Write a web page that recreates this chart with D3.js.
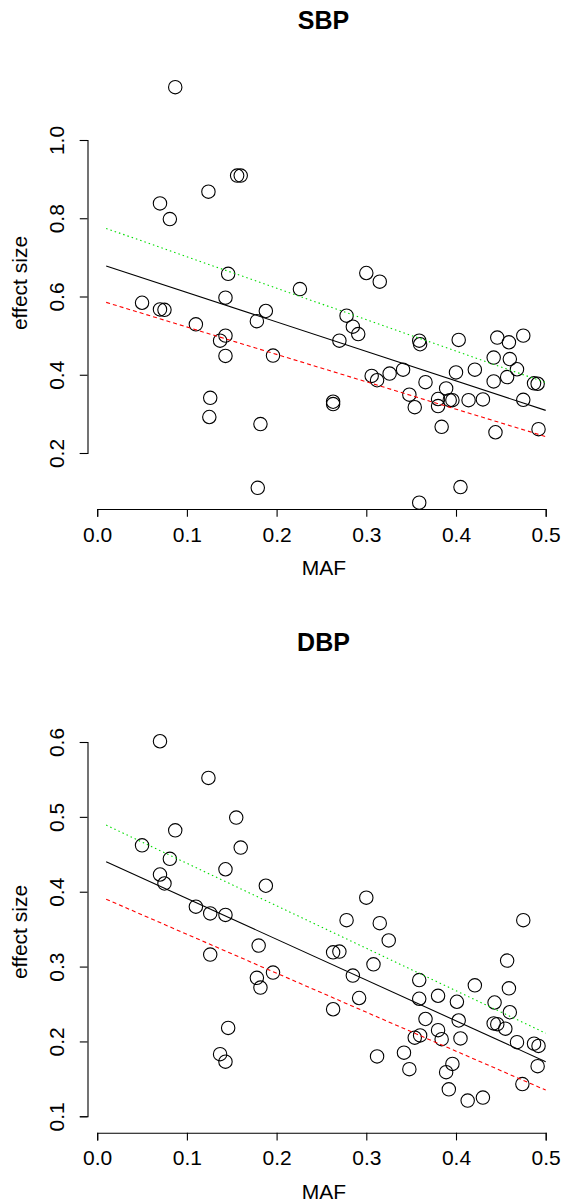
<!DOCTYPE html>
<html>
<head>
<meta charset="utf-8">
<script src="https://cdnjs.cloudflare.com/ajax/libs/d3/7.8.5/d3.min.js"></script>
<style>
    body { margin: 0; background: white; }
    svg text { font-family: "Liberation Sans", Arial, Helvetica, sans-serif; fill: black; }
</style>
</head>
<body>
<div id="grafico"></div>
<script>
const WIDTH = 565;
const HEIGHT = 1204;

// MAF and effect size per SNP
const sbpMaf = [0.087,0.156,0.160,0.124,0.070,0.081,0.146,0.300,0.315,0.226,0.143,0.050,0.070,0.075,0.188,0.110,0.178,0.278,0.285,0.291,0.270,0.137,0.143,0.143,0.196,0.359,0.360,0.403,0.446,0.459,0.475,0.442,0.460,0.468,0.421,0.341,0.400,0.306,0.312,0.326,0.366,0.457,0.442,0.487,0.491,0.389,0.348,0.380,0.380,0.393,0.396,0.414,0.430,0.475,0.354,0.263,0.263,0.126,0.125,0.182,0.384,0.444,0.492,0.179,0.405,0.359];
const sbpEffect = [1.135,0.909,0.909,0.868,0.838,0.798,0.658,0.660,0.638,0.619,0.597,0.584,0.567,0.566,0.563,0.529,0.537,0.551,0.523,0.504,0.487,0.487,0.500,0.448,0.449,0.487,0.478,0.489,0.495,0.483,0.500,0.444,0.440,0.414,0.413,0.413,0.406,0.397,0.386,0.403,0.381,0.394,0.383,0.378,0.377,0.365,0.349,0.338,0.320,0.335,0.335,0.335,0.337,0.336,0.317,0.331,0.325,0.341,0.292,0.274,0.267,0.253,0.261,0.111,0.113,0.073];

const dbpMaf = [0.070,0.124,0.155,0.087,0.050,0.160,0.081,0.143,0.070,0.188,0.075,0.300,0.110,0.126,0.143,0.278,0.315,0.475,0.325,0.180,0.126,0.263,0.270,0.457,0.308,0.196,0.285,0.178,0.359,0.182,0.421,0.459,0.380,0.292,0.359,0.401,0.443,0.263,0.460,0.366,0.403,0.442,0.446,0.455,0.146,0.380,0.384,0.405,0.354,0.360,0.468,0.487,0.492,0.312,0.342,0.137,0.143,0.396,0.348,0.389,0.491,0.474,0.392,0.430,0.413];
const dbpEffect = [0.601,0.552,0.499,0.482,0.462,0.459,0.444,0.430,0.423,0.408,0.411,0.392,0.380,0.371,0.369,0.362,0.358,0.362,0.335,0.328,0.316,0.319,0.320,0.308,0.303,0.292,0.288,0.285,0.282,0.272,0.275,0.271,0.261,0.258,0.257,0.253,0.252,0.243,0.239,0.230,0.228,0.224,0.223,0.217,0.218,0.215,0.203,0.204,0.205,0.208,0.199,0.197,0.194,0.180,0.185,0.183,0.173,0.170,0.163,0.159,0.167,0.143,0.136,0.125,0.121];

// regression lines (ends at MAF 0.01 and 0.5)
const fitMaf = [0.01, 0.5];
const sbpFit = [0.678, 0.309];
const sbpUpper = [0.774, 0.380];
const sbpLower = [0.585, 0.242];
const dbpFit = [0.440, 0.173];
const dbpUpper = [0.489, 0.211];
const dbpLower = [0.390, 0.135];

// tick labels
const xTicks = [0, 0.1, 0.2, 0.3, 0.4, 0.5];
const sbpTicks = [0.2, 0.4, 0.6, 0.8, 1.0];
const dbpTicks = [0.1, 0.2, 0.3, 0.4, 0.5, 0.6];

let svg = d3.select("#grafico")
    .append("svg")
    .attr("width", WIDTH)
    .attr("height", HEIGHT);

function drawPanel(p){
    let x = d3.scaleLinear().domain([0, 0.5]).range([97.2, 545.7]);
    let y = d3.scaleLinear().domain(p.yDomain).range(p.yRange);

    let g = svg.append("g");

    // x axis
    let xAxis = g.append("g")
        .attr("transform", `translate(0,${p.axisY})`)
        .call(d3.axisBottom(x).tickValues(xTicks).tickFormat(d3.format(".1f")).tickSizeOuter(0).tickSize(7.7));
    xAxis.selectAll("text")
        .attr("y", 32.5)
        .attr("dy", null)
        .style("font-size", "21px");

    // y axis
    let yAxis = g.append("g")
        .attr("transform", "translate(87.5,0)")
        .call(d3.axisLeft(y).tickValues(p.yTicks).tickFormat(d3.format(".1f")).tickSizeOuter(0).tickSize(7.7));
    yAxis.selectAll("text")
        .attr("transform", "rotate(-90)")
        .attr("x", 0)
        .attr("y", -24)
        .attr("dy", null)
        .attr("text-anchor", "middle")
        .style("font-size", "21px");

    g.selectAll(".domain, .tick line")
        .attr("stroke", "black")
        .attr("stroke-width", 1.1);

    // points
    g.selectAll(".pt")
        .data(d3.range(p.maf.length))
        .enter()
        .append("circle")
        .attr("cx", (i)=> x(p.maf[i]))
        .attr("cy", (i)=> y(p.effect[i]))
        .attr("r", 6.7)
        .style("fill", "none")
        .style("stroke", "black")
        .style("stroke-width", 1.1);

    // fitted lines
    let line = d3.line()
        .x((d)=> x(d[0]))
        .y((d)=> y(d[1]));
    let lines = [
        {vals: p.upper, color: "#00dd00", dash: "1.5,3"},
        {vals: p.lower, color: "#ff0000", dash: "4,3"},
        {vals: p.fit, color: "black", dash: null}
    ];
    lines.forEach((l)=>{
        g.append("path")
            .attr("d", line(fitMaf.map((m, i)=> [m, l.vals[i]])))
            .style("fill", "none")
            .style("stroke", l.color)
            .style("stroke-width", 1.1)
            .style("stroke-dasharray", l.dash);
    });

    // labels
    g.append("text")
        .attr("x", 323.5)
        .attr("y", p.titleY)
        .attr("text-anchor", "middle")
        .style("font-size", "25px")
        .style("font-weight", "bold")
        .text(p.title);

    g.append("text")
        .attr("x", 324)
        .attr("y", p.axisY + 66)
        .attr("text-anchor", "middle")
        .style("font-size", "21px")
        .text("MAF");

    g.append("text")
        .attr("transform", `translate(27,${p.ylabY}) rotate(-90)`)
        .attr("text-anchor", "middle")
        .style("font-size", "21px")
        .text("effect size");
}

drawPanel({
    title: "SBP", titleY: 29.3, axisY: 509, ylabY: 283,
    yDomain: [0.2, 1.0], yRange: [453, 140], yTicks: sbpTicks,
    maf: sbpMaf, effect: sbpEffect,
    fit: sbpFit, upper: sbpUpper, lower: sbpLower
});

drawPanel({
    title: "DBP", titleY: 650.7, axisY: 1132.7, ylabY: 932,
    yDomain: [0.1, 0.6], yRange: [1116.3, 742], yTicks: dbpTicks,
    maf: dbpMaf, effect: dbpEffect,
    fit: dbpFit, upper: dbpUpper, lower: dbpLower
});
</script>
</body>
</html>
